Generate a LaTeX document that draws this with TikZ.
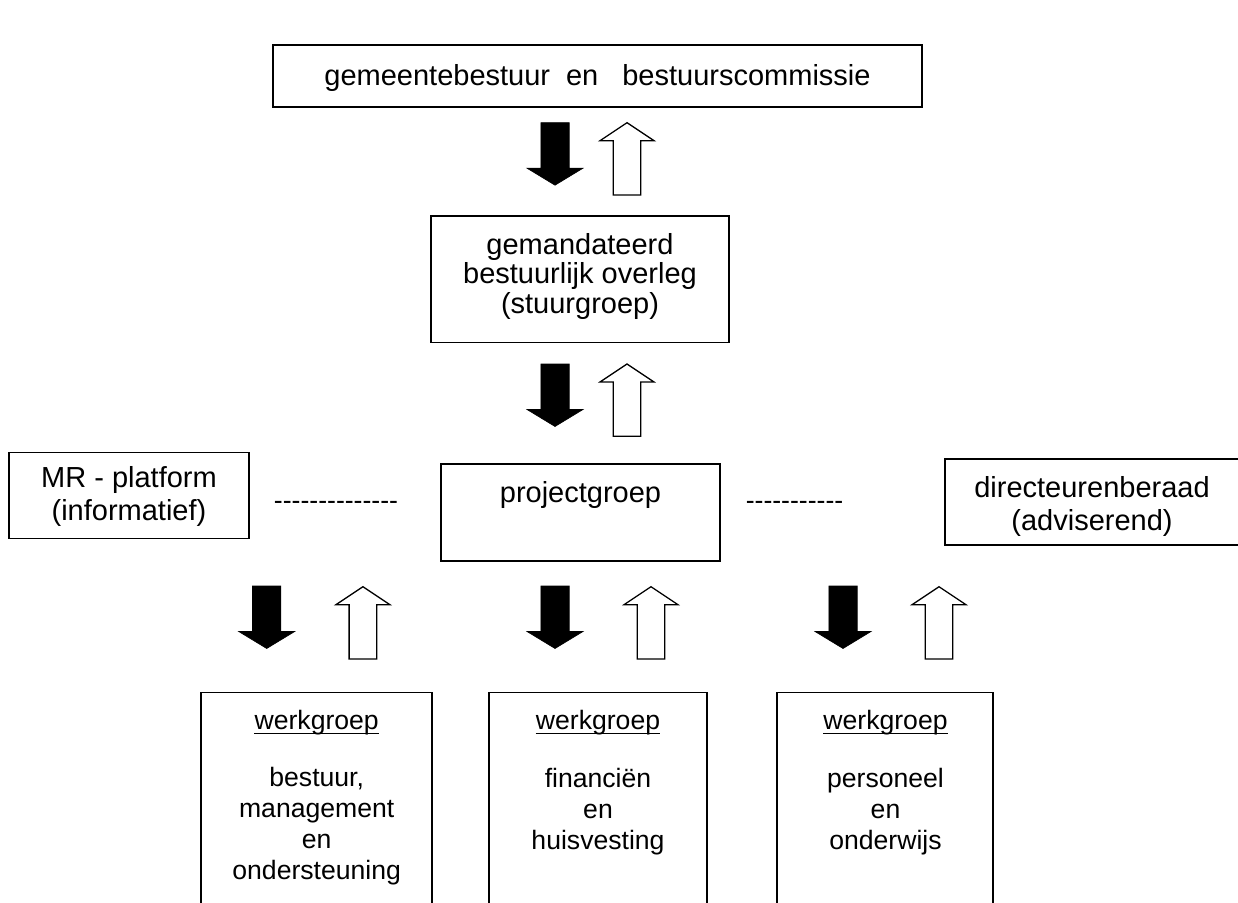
\documentclass[tikz,border=0pt]{standalone}
\usepackage{fontspec}
\setmainfont{Liberation Sans}
\newcommand\hy{\hbox{-}}
\begin{document}
\begin{tikzpicture}[x=1pt,y=-1pt,
  frame/.style={draw, line width=1.3pt, inner sep=0pt, outer sep=0pt},
  bigtext/.style={inner sep=0pt, align=center, font=\fontsize{29}{33}\selectfont},
  smalltext/.style={inner sep=0pt, align=center, font=\fontsize{26.6}{31}\selectfont},
  downarr/.pic={\filldraw[line width=0.6pt] (-14.2,0) -- (14.2,0) -- (14.2,45.5) -- (28,45.5) -- (0,62.5) -- (-28,45.5) -- (-14.2,45.5) -- cycle;},
  uparr/.pic={\draw[line width=1.3pt, line join=miter, fill=white] (0,0) -- (27,18) -- (13.8,18) -- (13.8,72.3) -- (-13.8,72.3) -- (-13.8,18) -- (-27,18) -- cycle;}
]
\useasboundingbox (0,0) rectangle (1238,902);
\fill[white] (0,0) rectangle (1238,902);
\clip (0,0) rectangle (1238,902);

% boxes
\node[frame, minimum width=649pt, minimum height=62pt] (top) at (597.5,76) {};
\node[frame, minimum width=298pt, minimum height=126.7pt] (mid) at (580,279.4) {};
\node[frame, minimum width=279pt, minimum height=97pt] (proj) at (580.5,512.5) {};
\node[frame, minimum width=240pt, minimum height=86pt] (mr) at (129,495.7) {};
\node[frame, minimum width=320pt, minimum height=86pt] (dir) at (1105,502) {};
\node[frame, minimum width=231pt, minimum height=240pt] (wg1) at (316.5,812.7) {};
\node[frame, minimum width=218pt, minimum height=240pt] (wg2) at (598,812.7) {};
\node[frame, minimum width=216pt, minimum height=240pt] (wg3) at (885,812.7) {};

% texts
\node[bigtext] (toptext) at (597.5,78) {gemeentebestuur\hspace{16pt}en\hspace{24pt}bestuurscommissie};
\node[bigtext, font=\fontsize{29}{29.5}\selectfont] (midtext) at (580,276) {gemandateerd\\bestuurlijk overleg\\(stuurgroep)};
\node[bigtext] (projtext) at (580.5,495) {projectgroep};
\node[bigtext] (mrtext) at (129,496.5) {MR - platform\\(informatief)};
\node[bigtext] (dirtext) at (1092,506.5) {directeurenberaad\\(adviserend)};
\node[smalltext, anchor=base] (dashl) at (336,509) {\hy\hy\hy\hy\hy\hy\hy\hy\hy\hy\hy\hy\hy\hy};
\node[smalltext, anchor=base] (dashr) at (794.5,509) {\hy\hy\hy\hy\hy\hy\hy\hy\hy\hy\hy};

\node[smalltext] (w1) at (316.7,723) {werkgroep};
\node[smalltext] (w2) at (598,723) {werkgroep};
\node[smalltext] (w3) at (885.5,723) {werkgroep};
\foreach \w in {w1,w2,w3}
  \draw[line width=1.2pt] ([yshift=-3.7pt]\w.base west) -- ([yshift=-3.7pt]\w.base east);
\node[smalltext] (t1) at (316.7,826.5) {bestuur,\\management\\en\\ondersteuning};
\node[smalltext] (t2) at (598,811.7) {financiën\\en\\huisvesting};
\node[smalltext] (t3) at (885.5,811.7) {personeel\\en\\onderwijs};

% arrows
\pic at (555,122.7) {downarr};
\pic at (627,122.7) {uparr};
\pic at (555,364) {downarr};
\pic at (627,364) {uparr};
\pic at (266.7,586) {downarr};
\pic at (362.9,586.7) {uparr};
\pic at (555,586) {downarr};
\pic at (651,586.7) {uparr};
\pic at (843,586) {downarr};
\pic at (939,586.7) {uparr};
\end{tikzpicture}
\end{document}
